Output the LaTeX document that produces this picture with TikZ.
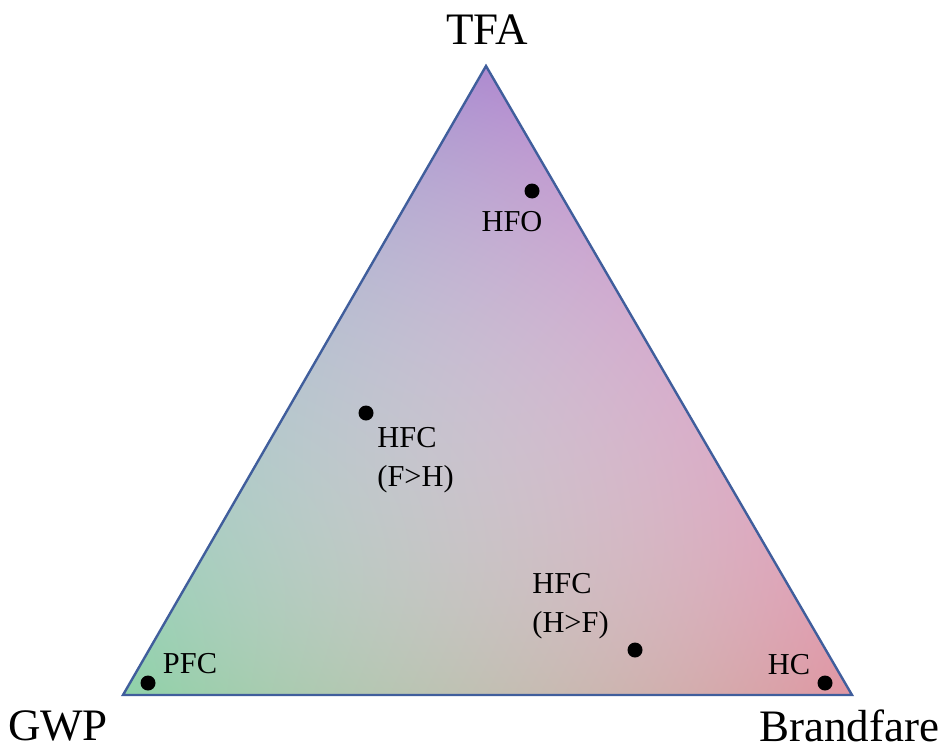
\documentclass[tikz,border=0pt]{standalone}
\usepackage{fontspec}
\setmainfont{Liberation Serif}
\usetikzlibrary{positioning}
\definecolor{edgeblue}{RGB}{64,94,156}
% barycentric mix of purple (TFA), green (GWP) and red (Brandfare), lightened inside
\pgfdeclarefunctionalshading{tfamix}{\pgfpointorigin}{\pgfpoint{100bp}{100bp}}{}{%
  25 sub 50 div
  dup 25 mul 3 -1 roll exch sub 25 sub 50 div
  2 copy add 1 exch sub
  2 index dup 1 exch sub mul 1.1 mul
  2 index 2 index mul 0.6 mul add
  3 index 0.682 mul 3 index 0.878 mul add 2 index 0.557 mul add
  1 2 index sub mul 1 index add
  4 index 0.541 mul 4 index 0.588 mul add 3 index 0.824 mul add
  1 3 index sub mul 2 index add
  5 index 0.816 mul 5 index 0.635 mul add 4 index 0.659 mul add
  1 4 index sub mul 3 index add
  7 3 roll pop pop pop pop
}

\begin{document}
\begin{tikzpicture}[x=0.5pt, y=-0.5pt, corner label/.style={font=\fontsize{22.5}{26}\selectfont}, dot node/.style={circle,fill=black,minimum size=7.5pt,inner sep=0pt}, class label/.style={font=\fontsize{15.2}{19.5}\selectfont,inner sep=0pt,align=left}]%
\useasboundingbox (0,0) rectangle (951,749);
\coordinate (apex) at (486,66);
\coordinate (gwpc) at (123,695);
\coordinate (firec) at (852,695);
\shade[shading=tfamix] (apex) -- (gwpc) -- (firec) -- cycle;
\draw[edgeblue, line width=1.2pt] (apex) -- (gwpc) -- (firec) -- cycle;
\begin{scope}[every node/.style={corner label}]
\node (tfa) at (487,30) {TFA};
\node (gwp) at (58,726) {GWP};
\node (brand) at (849,726) {Brandfare};
\end{scope}
\node[dot node] (hfo) at (532,191) {};
\node[dot node] (pfc) at (148,683) {};
\node[dot node] (hc) at (825,683) {};
\node[dot node] (hfcfh) at (366,413) {};
\node[dot node] (hfchf) at (635,650) {};
\node[class label] (hfolab) at (512,222) {HFO};
\node[class label] (pfclab) at (190,664) {PFC};
\node[class label] (hclab) at (789,665) {HC};
\node[class label, anchor=north west] (hfcfhlab) at (377,427) {HFC\\(F>H)};
\node[class label, anchor=north west] (hfchflab) at (532,573) {HFC\\(H>F)};
\end{tikzpicture}
\end{document}
